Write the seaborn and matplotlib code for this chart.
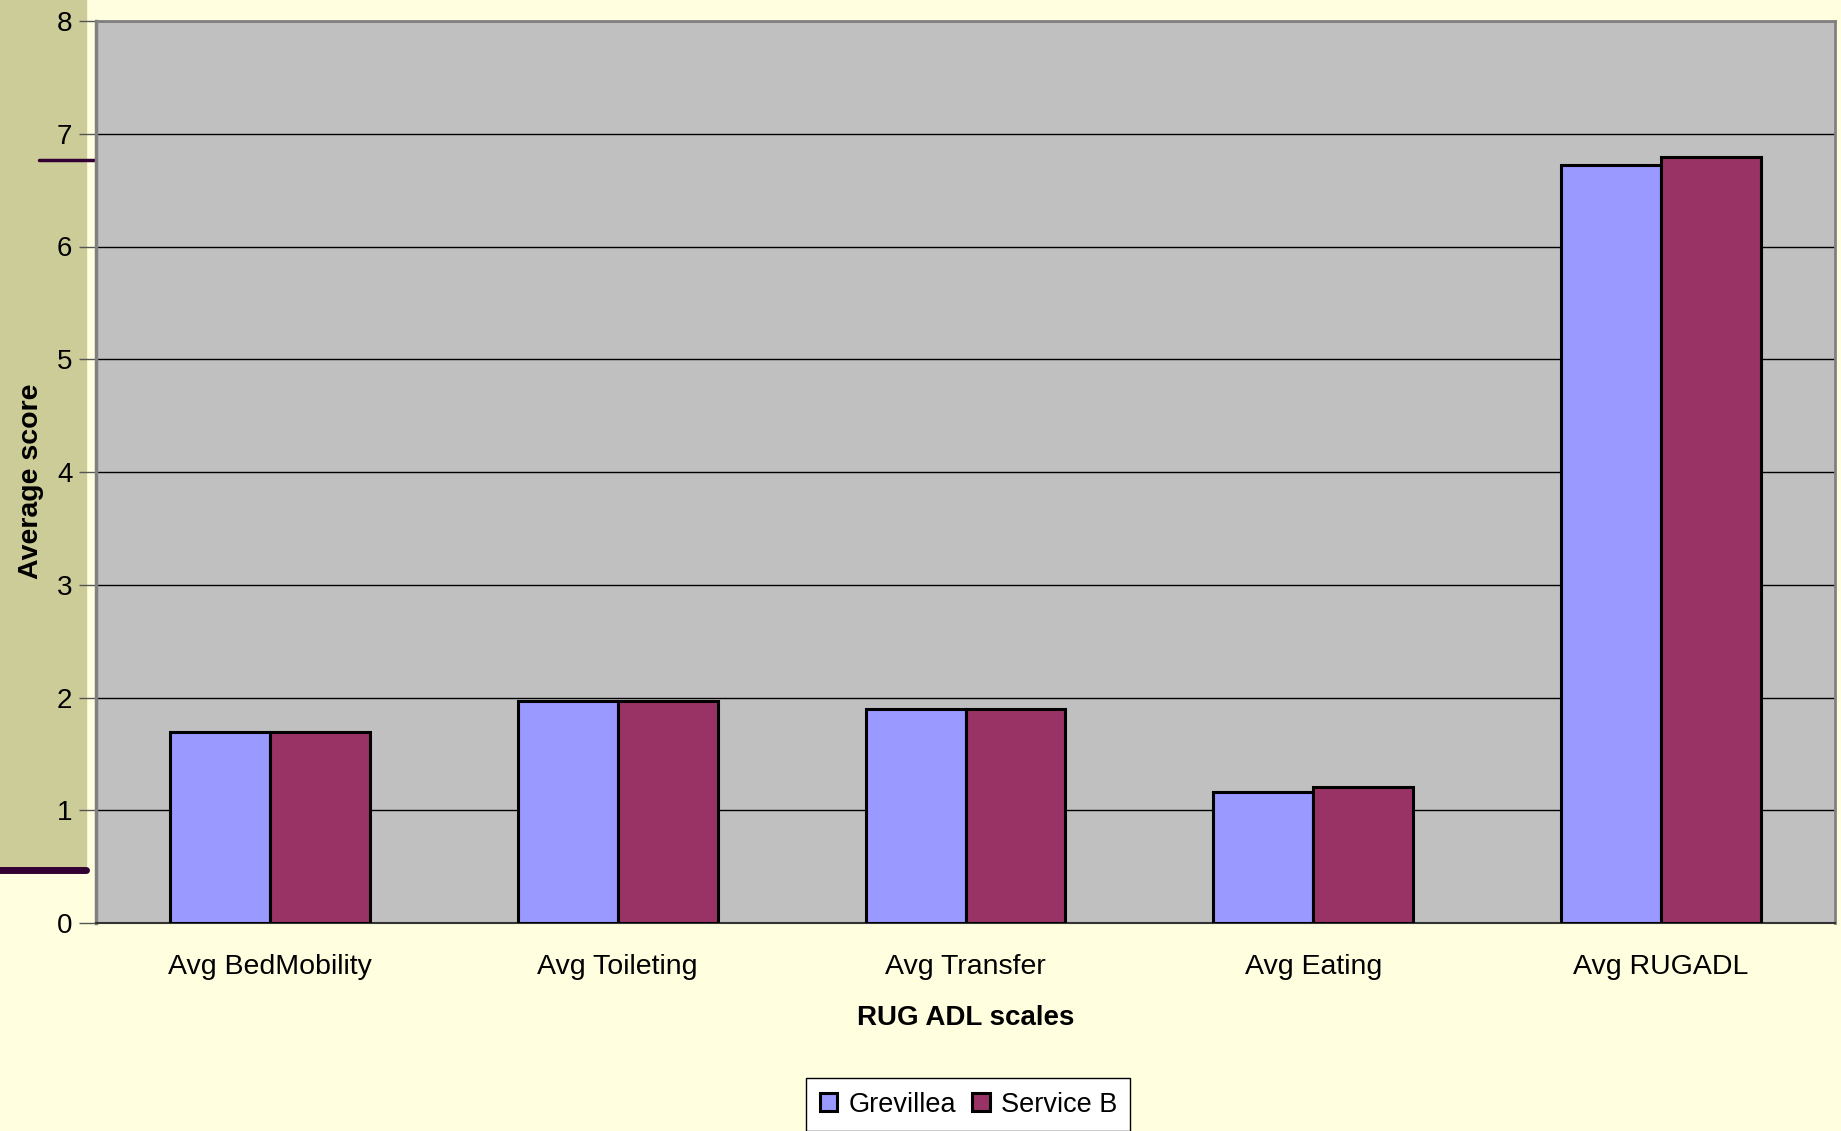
import pandas as pd
import matplotlib.pyplot as plt
import seaborn as sns
from matplotlib.lines import Line2D
from matplotlib.patches import Rectangle

# Dados
escalas = ["Avg BedMobility", "Avg Toileting", "Avg Transfer", "Avg Eating", "Avg RUGADL"]
grevillea = [1.69, 1.97, 1.90, 1.16, 6.72]
service_b = [1.69, 1.97, 1.90, 1.21, 6.79]
servicos = ["Grevillea", "Service B"]
cores = ["#9999FF", "#993366"]

df = pd.DataFrame({
    "Escala": escalas * 2,
    "Score": grevillea + service_b,
    "Servico": [servicos[0]] * len(escalas) + [servicos[1]] * len(escalas),
})

sns.set_style("white", {"text.color": "black", "axes.labelcolor": "black",
                        "xtick.color": "black", "ytick.color": "black"})
plt.rcParams["font.family"] = ["Liberation Sans", "DejaVu Sans"]

fig = plt.figure(figsize=(18.41, 11.31), dpi=100, facecolor="#FFFFE0")
ax = fig.add_axes([96 / 1841, 1 - 923 / 1131, (1835 - 96) / 1841, (923 - 21) / 1131])
ax.set_facecolor("#C0C0C0")

# faixa bege na esquerda (atras de tudo)
fig.patches.append(Rectangle((0, 1 - 869 / 1131), 86 / 1841, 869 / 1131,
                             transform=fig.transFigure, color="#CCCC99", zorder=-3))
fig.lines.append(Line2D([0, 86 / 1841], [1 - 870 / 1131] * 2, transform=fig.transFigure,
                        color="#330033", linewidth=5, zorder=-2))
fig.lines.append(Line2D([39 / 1841, 96 / 1841], [1 - 160 / 1131] * 2, transform=fig.transFigure,
                        color="#330033", linewidth=2.5, zorder=-2))

sns.barplot(data=df, x="Escala", y="Score", hue="Servico", palette=cores, saturation=1,
            edgecolor="black", linewidth=2.2, width=0.575, gap=0, ax=ax, zorder=3)

ax.set_ylim(0, 8)
ax.set_xlim(-0.5, 4.5)
ax.set_yticks(range(0, 9))
ax.yaxis.grid(True, color="black", linewidth=1)
ax.set_axisbelow(True)

ax.set_xticks([i - 0.5 for i in range(6)], minor=True)
ax.tick_params(axis="x", which="major", length=0, pad=22, labelsize=20.5)
ax.tick_params(axis="x", which="minor", length=9, width=1, color="#555555", direction="out")
ax.tick_params(axis="y", length=12, width=1, color="#555555", direction="out",
               left=True, pad=5, labelsize=20)

for lado in ["top", "right"]:
    ax.spines[lado].set_color("#808080")
    ax.spines[lado].set_linewidth(2)
ax.spines["left"].set_color("#808080")
ax.spines["left"].set_linewidth(2.5)
ax.spines["bottom"].set_color("#333333")
ax.spines["bottom"].set_linewidth(1.5)

ax.set_xlabel("RUG ADL scales", fontsize=20, fontweight="bold")
ax.xaxis.set_label_coords(0.5, -(1018 - 923) / 902)
ax.xaxis.label.set_va("center")
ax.set_ylabel("Average score", fontsize=20.5, fontweight="bold",
              family=["Liberation Sans Narrow", "Liberation Sans"])
ax.yaxis.set_label_coords((31 - 96) / 1739, 0.49)
ax.yaxis.label.set_va("center")

leg = ax.legend(loc="upper center", bbox_to_anchor=(0.526, 1 - 1078 / 1131 + 0.012),
                bbox_transform=fig.transFigure, ncol=2, fontsize=19.5, frameon=True,
                fancybox=False, edgecolor="black", facecolor="white", framealpha=1,
                handlelength=0.65, handleheight=0.65, handletextpad=0.4, columnspacing=0.6,
                borderpad=0.5, title=None)
leg.get_frame().set_linewidth(1)

fig.savefig("out.png", dpi=100, facecolor=fig.get_facecolor())
